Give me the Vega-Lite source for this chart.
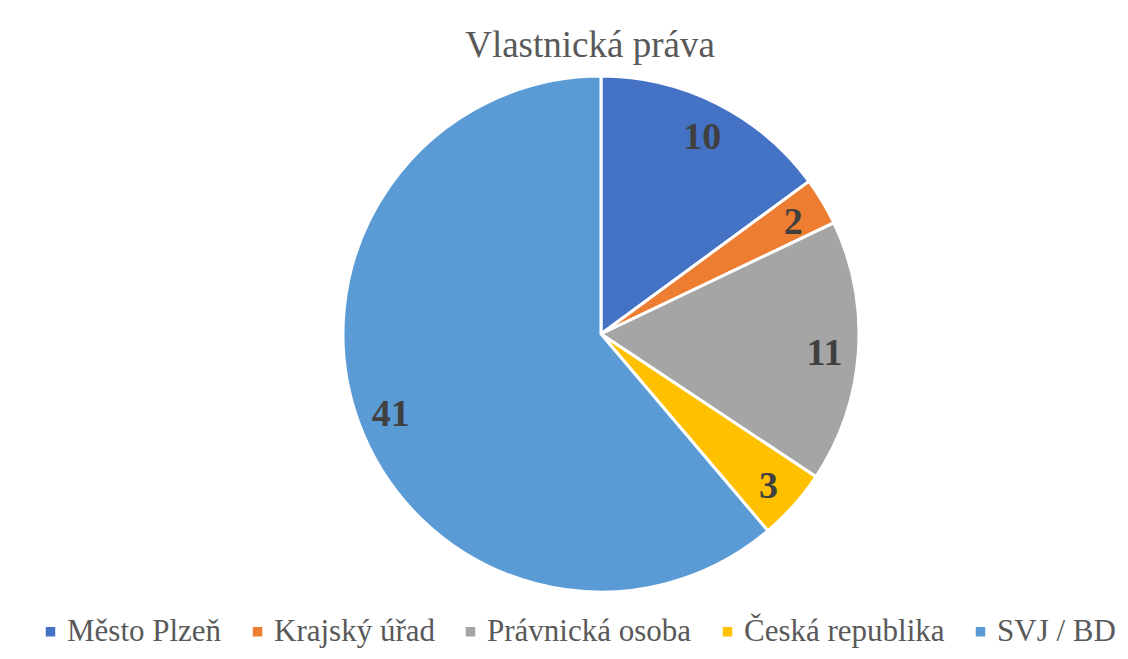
{
  "$schema": "https://vega.github.io/schema/vega-lite/v6.json",
  "autosize": {"type": "none"},
  "padding": {"left": 4, "top": 8, "right": 0, "bottom": 0},
  "width": 1194,
  "height": 652,
  "background": "white",
  "title": {
    "text": "Vlastnická práva",
    "font": "Liberation Serif",
    "fontSize": 37,
    "fontWeight": "normal",
    "color": "#595959",
    "anchor": "middle",
    "baseline": "alphabetic",
    "offset": -50,
    "dy": 36,
    "dx": -11
  },
  "data": {
    "values": [
      {"kategorie": "Město Plzeň", "pocet": 10, "poradi": 1},
      {"kategorie": "Krajský úřad", "pocet": 2, "poradi": 2},
      {"kategorie": "Právnická osoba", "pocet": 11, "poradi": 3},
      {"kategorie": "Česká republika", "pocet": 3, "poradi": 4},
      {"kategorie": "SVJ / BD", "pocet": 41, "poradi": 5}
    ]
  },
  "encoding": {
    "theta": {"field": "pocet", "type": "quantitative", "stack": true},
    "order": {"field": "poradi", "type": "quantitative"},
    "color": {
      "field": "kategorie",
      "type": "nominal",
      "scale": {
        "domain": ["Město Plzeň", "Krajský úřad", "Právnická osoba", "Česká republika", "SVJ / BD"],
        "range": ["#4472C4", "#ED7D31", "#A5A5A5", "#FFC000", "#5B9BD5"]
      },
      "legend": {
        "title": null,
        "orient": "none",
        "legendX": 31,
        "legendY": 608,
        "direction": "horizontal",
        "columns": 5,
        "symbolType": "square",
        "symbolSize": 90,
        "symbolStrokeWidth": 0,
        "labelFont": "Liberation Serif",
        "labelFontSize": 31,
        "labelColor": "#595959",
        "labelOffset": 1,
        "columnPadding": 20,
        "labelLimit": 400
      }
    }
  },
  "layer": [
    {
      "mark": {"type": "arc", "outerRadius": 258, "stroke": "white", "strokeWidth": 3}
    },
    {
      "mark": {
        "type": "text",
        "radius": 224,
        "dy": 4,
        "font": "Liberation Serif",
        "fontSize": 38,
        "fontWeight": "bold",
        "baseline": "middle",
        "align": "center"
      },
      "encoding": {
        "text": {"field": "pocet", "type": "quantitative"},
        "color": {"value": "#404040"}
      }
    }
  ],
  "config": {
    "view": {"stroke": "#D9D9D9", "strokeWidth": 1.5}
  }
}
